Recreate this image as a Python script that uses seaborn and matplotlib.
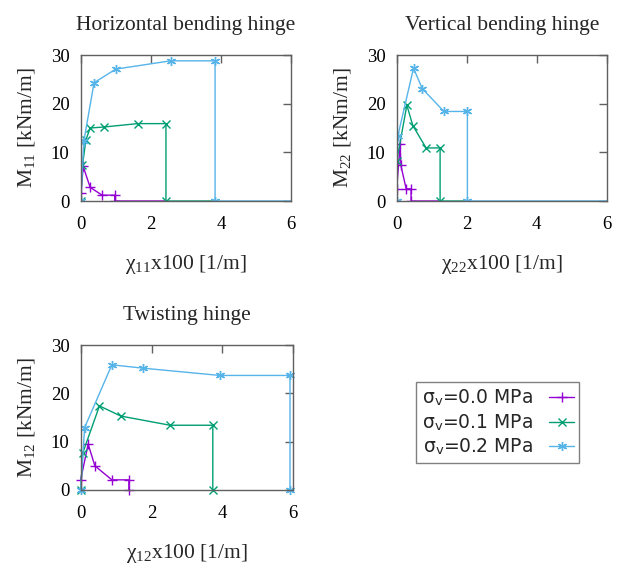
import matplotlib
matplotlib.use("Agg")
import matplotlib.pyplot as plt
import seaborn as sns
import pandas as pd
from matplotlib.lines import Line2D

sns.set_theme(style="white")
plt.rcParams['font.family'] = ['Liberation Serif', 'DejaVu Serif']
plt.rcParams['mathtext.fontset'] = 'custom'
plt.rcParams['mathtext.rm'] = 'Liberation Serif'
plt.rcParams['mathtext.it'] = 'Liberation Serif:italic'
plt.rcParams['mathtext.sf'] = 'DejaVu Sans'

# ---- data ----
labels = ["σ$_\\mathsf{v}$=0.0 MPa", "σ$_\\mathsf{v}$=0.1 MPa", "σ$_\\mathsf{v}$=0.2 MPa"]
colors = ["#9400D3", "#009E73", "#56B4E9"]
markers = ["+", "x", (6, 2, 0)]

# Horizontal bending hinge
h_x0 = [0.01, 0.07, 0.27, 0.61, 0.97, 0.97, 2.43]
h_y0 = [1.6, 7.1, 2.8, 1.2, 1.2, 0, 0]
h_x1 = [0, 0.05, 0.15, 0.27, 0.66, 1.62, 2.43, 2.43, 3.83]
h_y1 = [0, 7.3, 12.6, 15.0, 15.2, 15.9, 15.9, 0, 0]
h_x2 = [0, 0.09, 0.38, 1.0, 2.56, 3.83, 3.83, 6]
h_y2 = [0, 12.3, 24.3, 27.1, 28.8, 28.8, 0, 0]

# Vertical bending hinge
v_x0 = [0, 0.1, 0.12, 0.27, 0.41, 0.41, 1.24]
v_y0 = [2.5, 11.8, 7.3, 2.5, 2.5, 0, 0]
v_x1 = [0, 0.29, 0.46, 0.84, 1.24, 1.24, 2.02]
v_y1 = [8.2, 19.7, 15.5, 10.9, 10.9, 0, 0]
v_x2 = [0, 0.03, 0.48, 0.73, 1.35, 2.02, 2.02, 6]
v_y2 = [0, 13.3, 27.3, 23.1, 18.4, 18.4, 0, 0]

# Twisting hinge
t_x0 = [0, 0.21, 0.4, 0.88, 1.36, 1.36]
t_y0 = [2.1, 9.5, 5.0, 2.1, 2.1, 0]
t_x1 = [0, 0.06, 0.53, 1.13, 2.52, 3.73, 3.73]
t_y1 = [0, 7.7, 17.4, 15.3, 13.4, 13.4, 0]
t_x2 = [0, 0.11, 0.88, 1.77, 3.93, 5.91, 5.91]
t_y2 = [0, 12.9, 25.9, 25.2, 23.7, 23.7, 0]

titles = ["Horizontal bending hinge", "Vertical bending hinge", "Twisting hinge"]
ylabels = ["M$_{11}$ [kNm/m]", "M$_{22}$ [kNm/m]", "M$_{12}$ [kNm/m]"]
xlabels = ["χ$_{11}$x100 [1/m]", "χ$_{22}$x100 [1/m]", "χ$_{12}$x100 [1/m]"]
xticks = [0, 2, 4, 6]
yticks = [0, 10, 20, 30]

panels = [
    ([h_x0, h_x1, h_x2], [h_y0, h_y1, h_y2], True),
    ([v_x0, v_x1, v_x2], [v_y0, v_y1, v_y2], True),
    ([t_x0, t_x1, t_x2], [t_y0, t_y1, t_y2], False),
]

W, H = 623, 568
fig = plt.figure(figsize=(W / 100, H / 100), dpi=100)
rects = [
    (80.7 / W, 1 - 201 / H, 210.5 / W, 146 / H),
    (396.7 / W, 1 - 201 / H, 210 / W, 146 / H),
    (80.7 / W, 1 - 490 / H, 212.5 / W, 145 / H),
]

msizes = [6.5, 5.5, 6.5]
spine_c = "#606060"
for i, (rect, (xs, ys, extended)) in enumerate(zip(rects, panels)):
    ax = fig.add_axes(rect)
    for k in range(3):
        df = pd.DataFrame({"x": xs[k], "y": ys[k]})
        n = len(df)
        mev = slice(0, n - 1) if extended else None
        sns.lineplot(data=df, x="x", y="y", sort=False, estimator=None, ax=ax,
                     color=colors[k], marker=markers[k], markersize=msizes[k],
                     markeredgewidth=1.0, markeredgecolor=colors[k],
                     linewidth=1.0, markevery=mev, clip_on=False if i == 2 else True)
    ax.set_xlim(0, 6)
    ax.set_ylim(0, 30)
    ax.set_xticks(xticks)
    ax.set_yticks(yticks)
    ax.tick_params(direction="in", length=6, width=1, color=spine_c,
                   top=True, right=True, labelsize=13.5, colors="black")
    ax.tick_params(axis="x", pad=11)
    ax.tick_params(axis="y", pad=8)
    for s in ax.spines.values():
        s.set_color(spine_c)
        s.set_linewidth(1)
    ax.set_title(titles[i], fontsize=15.5, pad=18)
    ax.set_xlabel(xlabels[i], fontsize=15.5, labelpad=14)
    ax.set_ylabel(ylabels[i], fontsize=15.5, labelpad=10)

handles = []
for k in range(3):
    handles.append(Line2D([], [], color=colors[k], marker=markers[k], markersize=msizes[k],
                          markeredgewidth=1.0, linewidth=1.0))

leg = fig.legend(handles, labels, loc="upper left",
                 bbox_to_anchor=(416 / W, 1 - 382 / H), borderaxespad=0,
                 markerfirst=False, fancybox=False, framealpha=1,
                 edgecolor="#808080", prop={"family": "DejaVu Sans", "size": 13.5},
                 handlelength=1.3, handletextpad=0.9, labelspacing=0.2,
                 borderpad=0.3)
leg.get_frame().set_linewidth(1)

fig.savefig("out.png", dpi=100)
